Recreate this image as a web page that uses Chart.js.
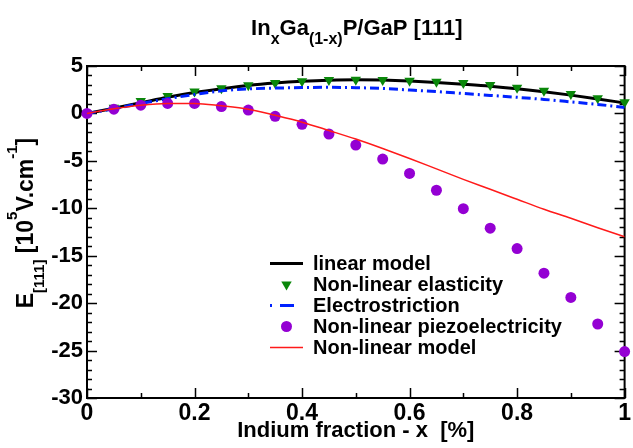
<!DOCTYPE html>
<html>
<head>
<meta charset="utf-8">
<script src="https://cdn.jsdelivr.net/npm/chart.js@4/dist/chart.umd.min.js"></script>
<style>
  html, body { margin: 0; padding: 0; background: #fff; }
  #wrap { width: 633px; height: 448px; }
</style>
</head>
<body>
<div id="wrap"><canvas id="chart" width="633" height="448"></canvas></div>
<script>
(function () {
  "use strict";

  // Indium fraction, step 0.05
  var fraction = [0, 0.05, 0.1, 0.15, 0.2, 0.25, 0.3, 0.35, 0.4, 0.45, 0.5,
    0.55, 0.6, 0.65, 0.7, 0.75, 0.8, 0.85, 0.9, 0.95, 1];

  // E[111] in 10^5 V/cm
  var linearModel = [0, 0.55, 1.12, 1.7, 2.2, 2.6, 2.95, 3.2, 3.38, 3.5, 3.55,
    3.52, 3.42, 3.27, 3.08, 2.87, 2.6, 2.28, 1.93, 1.53, 1.1];
  var nonLinearElasticity = [0, 0.6, 1.3, 1.85, 2.3, 2.65, 2.98, 3.2, 3.38, 3.52, 3.55,
    3.52, 3.45, 3.33, 3.2, 3.0, 2.72, 2.4, 2.05, 1.6, 1.17];
  var electrostriction = [0, 0.5, 1.05, 1.55, 2.0, 2.38, 2.58, 2.67, 2.73, 2.75, 2.72,
    2.63, 2.47, 2.3, 2.1, 1.9, 1.7, 1.48, 1.22, 0.95, 0.62];
  var nonLinearPiezo = [0, 0.45, 0.87, 1.05, 1.05, 0.72, 0.35, -0.3, -1.15, -2.17, -3.34,
    -4.81, -6.32, -8.1, -10.04, -12.1, -14.25, -16.84, -19.4, -22.2, -25.1];
  var nonLinearModel = [0, 0.5, 0.87, 1.05, 1.05, 0.8, 0.45, -0.2, -0.92, -1.8, -2.7,
    -3.7, -4.75, -5.85, -6.95, -8.0, -9.05, -10.1, -11.05, -12.05, -13.0];

  var seriesNames = ['linear model', 'Non-linear elasticity', 'Electrostriction',
    'Non-linear piezoelectricity', 'Non-linear model'];

  var xTicks = [0, 0.2, 0.4, 0.6, 0.8, 1];
  var yTicks = [5, 0, -5, -10, -15, -20, -25, -30];

  var FONT = '"Liberation Sans", Arial, Helvetica, sans-serif';
  var GREEN = '#0a870a', PURPLE = '#9400d3', BLUE = '#0022ff', RED = '#ff1a1a';

  function pts(ys) {
    return fraction.map(function (x, i) { return { x: x, y: ys[i] }; });
  }

  // text with sub/superscripts: parts = [text, size, dy]
  function richWidth(ctx, parts) {
    var w = 0;
    parts.forEach(function (p) {
      ctx.font = 'bold ' + p[1] + 'px ' + FONT;
      w += ctx.measureText(p[0]).width;
    });
    return w;
  }
  function drawRich(ctx, parts, cx, baseY) {
    var x = cx - richWidth(ctx, parts) / 2;
    ctx.textAlign = 'left';
    ctx.textBaseline = 'alphabetic';
    parts.forEach(function (p) {
      ctx.font = 'bold ' + p[1] + 'px ' + FONT;
      ctx.fillText(p[0], x, baseY + p[2]);
      x += ctx.measureText(p[0]).width;
    });
  }

  var framePlugin = {
    id: 'frame',
    beforeDatasetsDraw: function (chart) {
      var ctx = chart.ctx, a = chart.chartArea;
      var xs = chart.scales.x, ys = chart.scales.y, v, p, len;
      ctx.save();
      ctx.strokeStyle = '#000';
      ctx.lineWidth = 1.5;
      ctx.beginPath();
      for (v = -30; v <= 5; v += 1) {
        p = Math.round(ys.getPixelForValue(v)) + 0.5;
        len = (v % 5 === 0) ? 10 : 5;
        ctx.moveTo(a.left, p); ctx.lineTo(a.left + len, p);
        ctx.moveTo(a.right, p); ctx.lineTo(a.right - len, p);
      }
      for (v = 0; v <= 10; v += 1) {
        p = Math.round(xs.getPixelForValue(v / 10)) + 0.5;
        len = (v % 2 === 0) ? 10 : 5;
        ctx.moveTo(p, a.top); ctx.lineTo(p, a.top + len);
        ctx.moveTo(p, a.bottom); ctx.lineTo(p, a.bottom - len);
      }
      ctx.stroke();
      ctx.lineWidth = 2;
      ctx.strokeRect(a.left, a.top, a.right - a.left, a.bottom - a.top);
      ctx.restore();
    },
    afterDraw: function (chart) {
      var ctx = chart.ctx, a = chart.chartArea;
      var cx = (a.left + a.right) / 2;
      ctx.save();
      ctx.fillStyle = '#000';

      // title
      drawRich(ctx, [['In', 22, 0], ['x', 16, 9], ['Ga', 22, 0], ['(1-x)', 16, 9],
        ['P/GaP [111]', 22, 0]], cx + 1, 35);

      // x axis title
      drawRich(ctx, [['Indium fraction - x  [%]', 22, 0]], cx, 437);

      // y axis title
      ctx.save();
      ctx.translate(33, 223);
      ctx.rotate(-Math.PI / 2);
      drawRich(ctx, [['E', 23, 0], ['[111]', 15, 11], [' [10', 23, 0], ['5', 15, -16],
        ['V.cm', 23, 0], ['-1', 15, -16], [']', 23, 0]], 0, 0);
      ctx.restore();

      // legend
      var lx = 270, lw = 33, ly = 263.5, step = 21, i, cy;
      for (i = 0; i < seriesNames.length; i += 1) {
        cy = ly + i * step;
        ctx.save();
        if (i === 0 || i === 2 || i === 4) {
          ctx.beginPath();
          ctx.strokeStyle = i === 0 ? '#000' : (i === 2 ? BLUE : RED);
          ctx.lineWidth = i === 4 ? 1.5 : 3;
          if (i === 2) { ctx.setLineDash([2, 8, 14, 9]); }
          ctx.moveTo(lx, cy); ctx.lineTo(lx + lw, cy);
          ctx.stroke();
        } else if (i === 1) {
          ctx.beginPath();
          ctx.fillStyle = GREEN;
          ctx.moveTo(lx + lw / 2 - 5.2, cy - 3);
          ctx.lineTo(lx + lw / 2 + 5.2, cy - 3);
          ctx.lineTo(lx + lw / 2, cy + 6);
          ctx.closePath();
          ctx.fill();
        } else {
          ctx.beginPath();
          ctx.fillStyle = PURPLE;
          ctx.arc(lx + lw / 2, cy, 5.5, 0, Math.PI * 2);
          ctx.fill();
        }
        ctx.restore();
        ctx.font = 'bold 20px ' + FONT;
        ctx.textAlign = 'left';
        ctx.textBaseline = 'middle';
        ctx.fillText(seriesNames[i], lx + 43, cy + 1);
      }
      ctx.restore();
    }
  };

  new Chart(document.getElementById('chart'), {
    type: 'line',
    data: {
      datasets: [
        { label: seriesNames[4], data: pts(nonLinearModel), borderColor: RED, borderWidth: 1.5,
          pointRadius: 0, tension: 0.4, cubicInterpolationMode: 'monotone', order: 1 },
        { label: seriesNames[3], data: pts(nonLinearPiezo), showLine: false, pointRadius: 5.5,
          pointBackgroundColor: PURPLE, pointBorderWidth: 0, clip: false, order: 2 },
        { label: seriesNames[2], data: pts(electrostriction), borderColor: BLUE, borderWidth: 3,
          borderDash: [9, 4, 2, 4], pointRadius: 0, tension: 0.4,
          cubicInterpolationMode: 'monotone', order: 3 },
        { label: seriesNames[1], data: pts(nonLinearElasticity), showLine: false,
          pointStyle: 'triangle', rotation: 180, pointRadius: 6, pointBackgroundColor: GREEN,
          pointBorderWidth: 0, clip: false, order: 4 },
        { label: seriesNames[0], data: pts(linearModel), borderColor: '#000', borderWidth: 3,
          pointRadius: 0, tension: 0.4, cubicInterpolationMode: 'monotone', order: 5 }
      ]
    },
    options: {
      responsive: false,
      animation: false,
      devicePixelRatio: 1,
      layout: { padding: { top: 66, right: 3, left: 0, bottom: 0 } },
      plugins: { legend: { display: false }, tooltip: { enabled: false }, title: { display: false } },
      scales: {
        x: {
          type: 'linear', min: 0, max: 1,
          afterFit: function (s) { s.height = 50; },
          afterBuildTicks: function (s) { s.ticks = xTicks.map(function (v) { return { value: v }; }); },
          grid: { display: false, drawTicks: false },
          border: { display: false },
          ticks: { color: '#000', font: { family: FONT, weight: 'bold', size: 23 }, padding: 2,
            maxRotation: 0, autoSkip: false,
            callback: function (v) { return String(Math.round(v * 10) / 10); } }
        },
        y: {
          type: 'linear', min: -30, max: 5,
          afterFit: function (s) { s.width = 87; },
          afterBuildTicks: function (s) { s.ticks = yTicks.map(function (v) { return { value: v }; }); },
          grid: { display: false, drawTicks: false },
          border: { display: false },
          ticks: { color: '#000', font: { family: FONT, weight: 'bold', size: 22 }, padding: 4,
            autoSkip: false, callback: function (v) { return String(v); } }
        }
      }
    },
    plugins: [framePlugin]
  });
})();
</script>
</body>
</html>
